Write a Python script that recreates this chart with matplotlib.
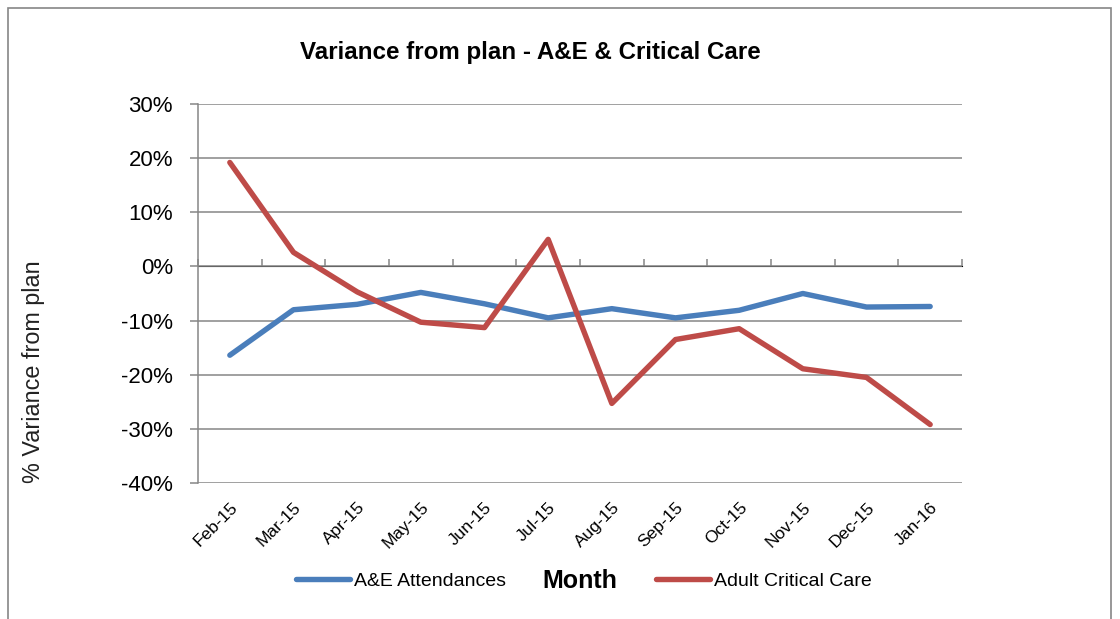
import matplotlib
matplotlib.use('Agg')
import matplotlib.pyplot as plt
from matplotlib.patches import Rectangle
from matplotlib.ticker import FuncFormatter, MultipleLocator

meses = ['Feb-15', 'Mar-15', 'Apr-15', 'May-15', 'Jun-15', 'Jul-15',
         'Aug-15', 'Sep-15', 'Oct-15', 'Nov-15', 'Dec-15', 'Jan-16']
ae_attendances = [-16.4, -8.0, -7.0, -4.8, -6.9, -9.5,
                  -7.8, -9.5, -8.1, -5.0, -7.5, -7.4]
critical_care = [19.2, 2.6, -4.7, -10.3, -11.3, 5.0,
                 -25.3, -13.5, -11.5, -18.9, -20.5, -29.2]

AZUL = '#4A7EBB'
VERMELHO = '#BE4B48'
CINZA = '#868686'

plt.rcParams['font.family'] = ['Liberation Sans', 'DejaVu Sans']


def principal():
    fig = plt.figure(figsize=(11.2, 6.19), dpi=100)
    ax = fig.add_axes([198 / 1120, 1 - 483 / 619, 764 / 1120, 379 / 619])

    # moldura externa
    fig.patches.append(Rectangle((8 / 1120, -0.01), 1103 / 1120, 1 - 8 / 619 + 0.01,
                                 transform=fig.transFigure, fill=False,
                                 edgecolor=CINZA, linewidth=1.2))

    x = list(range(len(meses)))
    ax.plot(x, ae_attendances, color=AZUL, linewidth=3.9,
            solid_capstyle='round', solid_joinstyle='round', label='A&E Attendances', zorder=3)
    ax.plot(x, critical_care, color=VERMELHO, linewidth=3.9,
            solid_capstyle='round', solid_joinstyle='round', label='Adult Critical Care', zorder=3)

    ymin, ymax = -40, 30
    ax.set_ylim(ymin, ymax)
    ax.set_xlim(-0.5, len(meses) - 0.5)
    ax.yaxis.set_major_locator(MultipleLocator(10))
    ax.yaxis.set_major_formatter(FuncFormatter(lambda v, p: f'{v:.0f}%'))
    ax.grid(axis='y', color=CINZA, linewidth=1.1)
    ax.set_axisbelow(True)

    for lado in ['top', 'right', 'bottom']:
        ax.spines[lado].set_visible(False)
    ax.spines['left'].set_color(CINZA)
    ax.spines['left'].set_linewidth(1.1)
    ax.tick_params(axis='y', length=6, width=1.1, color=CINZA, labelsize=16, pad=12)

    ax.set_xticks(x)
    ax.set_xticklabels(meses, rotation=45, ha='right', rotation_mode='anchor', fontsize=12.5)
    ax.tick_params(axis='x', length=0, pad=12)

    # eixo horizontal cruzando no zero, com marcas entre categorias
    eixo_zero = ax.secondary_xaxis((0 - ymin) / (ymax - ymin))
    eixo_zero.set_xticks([i - 0.5 for i in x] + [len(meses) - 0.5])
    eixo_zero.tick_params(axis='x', direction='out', length=5, width=1.1,
                          color=CINZA, labelbottom=False, labeltop=False)
    eixo_zero.spines['bottom'].set_color(CINZA)
    eixo_zero.spines['bottom'].set_linewidth(1.1)

    fig.text(530 / 1120, 1 - 52 / 619, 'Variance from plan - A&E & Critical Care',
             ha='center', va='center', fontsize=17.4, fontweight='bold')
    fig.text(34 / 1120, 1 - 372 / 619, '% Variance from plan', rotation=90,
             ha='center', va='center', fontsize=16.8, color='#222222')
    fig.text(580 / 1120, 1 - 581 / 619, 'Month', ha='center', va='center',
             fontsize=18, fontweight='bold')

    fig.legend(loc='center', bbox_to_anchor=(584 / 1120, 1 - 581 / 619), ncol=2,
               frameon=False, fontsize=14, handlelength=2.8, handletextpad=0.2,
               columnspacing=7.7)

    fig.savefig('out.png', dpi=100)


if __name__ == '__main__':
    principal()
